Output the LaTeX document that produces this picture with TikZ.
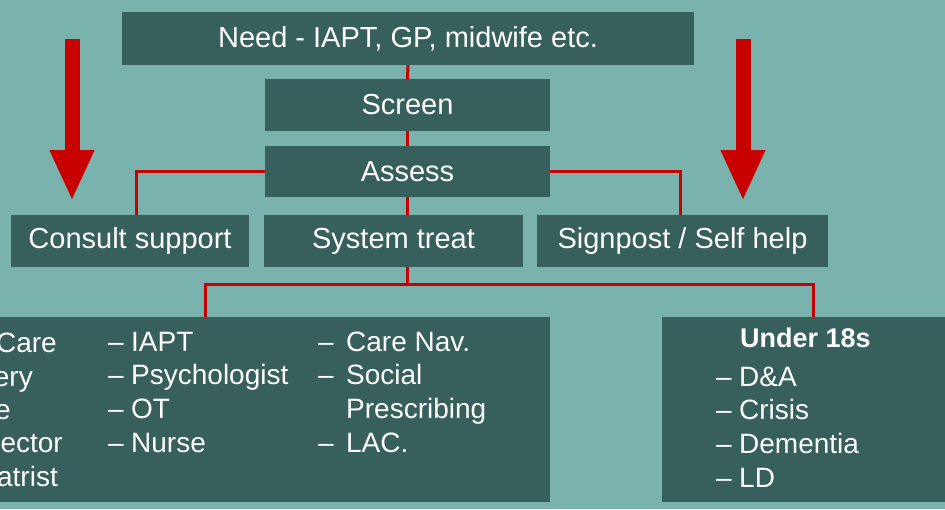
\documentclass[tikz,border=0pt]{standalone}
\usepackage{fontspec}
\setmainfont{Liberation Sans}
\usepackage{tikz}
\usetikzlibrary{arrows.meta, calc}

\definecolor{bgteal}{RGB}{122,179,174}
\definecolor{boxteal}{RGB}{55,96,92}
\definecolor{linkred}{RGB}{200,0,0}

\newcommand{\lidash}[1]{\makebox[#1][l]{--}}

\tikzset{
  box/.style={fill=boxteal, text=white, inner sep=0pt, font=\fontsize{29}{34}\selectfont},
  link/.style={draw=linkred, line width=3pt},
  bigarrow/.style={draw=linkred, line width=15pt, -{Triangle[width=41pt,length=51pt]}},
  listtext/.style={text=white, inner sep=0pt, align=left, font=\fontsize{28}{33.6}\selectfont}
}

\begin{document}
\begin{tikzpicture}[x=1pt, y=-1pt]
\useasboundingbox (0,0) rectangle (945,509);
\clip (0,0) rectangle (945,509);
\fill[bgteal] (0,0) rectangle (945,509);

% boxes
\node[box, minimum width=572pt, minimum height=53pt] (need) at (408,38.5) {Need - IAPT, GP, midwife etc.};
\node[box, minimum width=285pt, minimum height=52pt] (screen) at (407.5,105) {Screen};
\node[box, minimum width=285pt, minimum height=51pt] (assess) at (407.5,171.5) {Assess};
\node[box, minimum width=238pt, minimum height=52pt] (consult) at (130,241) {Consult support};
\node[box, minimum width=259pt, minimum height=52pt] (systreat) at (393.5,241) {System treat};
\node[box, minimum width=291pt, minimum height=52pt] (signpost) at (682.5,241) {Signpost / Self help};
\node[box, minimum width=570pt, minimum height=185pt] (teams) at (265,409.5) {};
\node[box, minimum width=303pt, minimum height=185pt] (under) at (813.5,409.5) {};

% links
\coordinate (lbar) at (205,284);
\coordinate (rbar) at (813,284);
\draw[link] (need.south) -- (screen.north);
\draw[link] (screen.south) -- (assess.north);
\draw[link] (assess.west) -| ([xshift=6pt]consult.north);
\draw[link] (assess.east) -| ([xshift=-2pt]signpost.north);
\draw[link] (assess.south) -- (assess.south |- systreat.north);
\draw[link] (assess.south |- systreat.south) -- (assess.south |- lbar);
\draw[link] (lbar |- teams.north) -- (lbar) -- (rbar) -- (rbar |- under.north);

% big arrows
\coordinate (ltop) at (72,39);
\coordinate (ltip) at (72,201);
\coordinate (rtop) at (743,39);
\coordinate (rtip) at (743,201);
\draw[bigarrow] (ltop) -- (ltip);
\draw[bigarrow] (rtop) -- (rtip);

% lists
\node[listtext, anchor=base east] (f1) at (57,352) {Care};
\node[listtext, anchor=base east] (f2) at (33,386) {ery};
\node[listtext, anchor=base east] (f3) at (11,419) {e};
\node[listtext, anchor=base east] (f4) at (63,452) {ector};
\node[listtext, anchor=base east] (f5) at (58,486) {atrist};
\node[listtext, anchor=base west] (staff) at (108,452) {\lidash{23pt}IAPT\\\lidash{23pt}Psychologist\\\lidash{23pt}OT\\\lidash{23pt}Nurse};
\node[listtext, anchor=base west] (social) at (318,452) {\lidash{28pt}Care Nav.\\\lidash{28pt}Social\\\hspace*{28pt}Prescribing\\\lidash{28pt}LAC.};
\node[listtext, anchor=base west, font=\bfseries\fontsize{27}{33}\selectfont] (u18) at (740,347) {Under 18s};
\node[listtext, anchor=base west] (u18list) at (716,487) {\lidash{23pt}D\&A\\\lidash{23pt}Crisis\\\lidash{23pt}Dementia\\\lidash{23pt}LD};
\end{tikzpicture}
\end{document}
